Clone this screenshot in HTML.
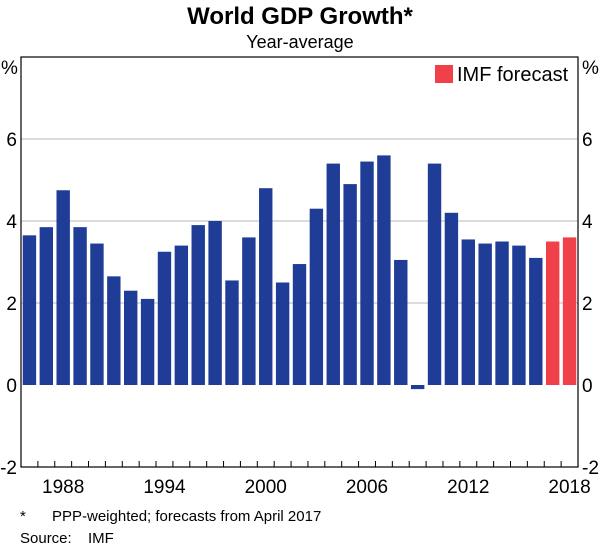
<!DOCTYPE html>
<html><head><meta charset="utf-8"><style>
body{margin:0;background:#fff;}
svg{display:block;font-family:"Liberation Sans",Arial,sans-serif;}
</style></head><body>
<svg width="600" height="553" viewBox="0 0 600 553">
<text x="300" y="24" text-anchor="middle" font-size="24" font-weight="bold">World GDP Growth*</text>
<text x="300" y="48" text-anchor="middle" font-size="18">Year-average</text>
<g id="plot"></g>
<text x="20" y="521" font-size="15">*</text>
<text x="52" y="521" font-size="15">PPP-weighted; forecasts from April 2017</text>
<text x="20" y="543" font-size="15">Source:</text>
<text x="88" y="543" font-size="15">IMF</text>
</svg>
<script>
const years=[1986,1987,1988,1989,1990,1991,1992,1993,1994,1995,1996,1997,1998,1999,2000,2001,2002,2003,2004,2005,2006,2007,2008,2009,2010,2011,2012,2013,2014,2015,2016,2017,2018];
const growth=[3.65,3.85,4.75,3.85,3.45,2.65,2.3,2.1,3.25,3.4,3.9,4.0,2.55,3.6,4.8,2.5,2.95,4.3,5.4,4.9,5.45,5.6,3.05,-0.1,5.4,4.2,3.55,3.45,3.5,3.4,3.1,3.5,3.6];
const forecastFrom=2017;
const yTicks=[-2,0,2,4,6];
const gridVals=[2,4,6];
const xLabels=[1988,1994,2000,2006,2012,2018];
const NS="http://www.w3.org/2000/svg";
const L=21,R=578,T=57,B=467,yMin=-2,yMax=8;
const slot=(R-L)/years.length;
const y=v=>B-(v-yMin)/(yMax-yMin)*(B-T);
const xc=i=>L+(i+0.5)*slot;
const g=document.getElementById('plot');
function mk(tag,a){const e=document.createElementNS(NS,tag);for(const k in a)e.setAttribute(k,a[k]);g.appendChild(e);return e;}
gridVals.forEach(v=>{const l=mk('line',{x1:L,x2:R,y1:y(v),y2:y(v),stroke:'#b8b8b8','stroke-width':1});
 
 });
growth.forEach((v,i)=>{
 const b=mk('rect',{x:xc(i)-6.7,y:Math.min(y(v),y(0)),width:13.4,height:Math.abs(y(v)-y(0)),fill:years[i]>=forecastFrom?'#f0404a':'#1f3d96'});
 
 
});
const fr=mk('rect',{x:L,y:T,width:R-L,height:B-T,fill:'none',stroke:'#000','stroke-width':1.2});


for(let k=1;k<years.length;k++){const t=mk('line',{x1:L+k*slot,x2:L+k*slot,y1:B,y2:B-6,stroke:'#000'});
 
 }
yTicks.forEach(v=>{
 const a=mk('text',{x:L-4,y:y(v)+7,'text-anchor':'end','font-size':19});a.textContent=v;
 
 
 const b=mk('text',{x:R+4,y:y(v)+7,'font-size':19});b.textContent=v;
 
 
});
const pl=mk('text',{x:1,y:T+17,'font-size':19});pl.textContent='%';


const pr=mk('text',{x:R+4,y:T+17,'font-size':19});pr.textContent='%';


xLabels.forEach(yr=>{const i=years.indexOf(yr);const t=mk('text',{x:xc(i),y:B+26,'text-anchor':'middle','font-size':19});t.textContent=yr;
 
 });
const ls=mk('rect',{x:435,y:65,width:18,height:18,fill:'#f0404a'});


const lt=mk('text',{x:457,y:81,'font-size':20});lt.textContent='IMF forecast';


</script>
</body></html>
